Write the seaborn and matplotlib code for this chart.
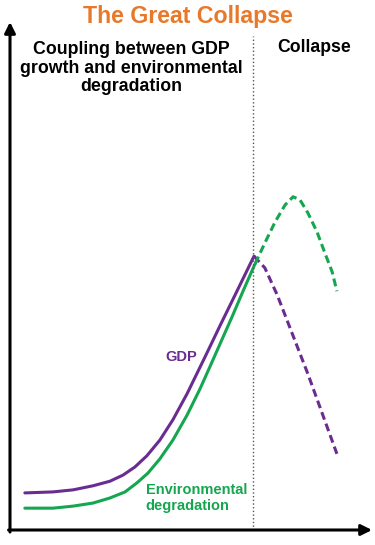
import numpy as np
import pandas as pd
import seaborn as sns
import matplotlib.pyplot as plt

# time axis runs 0..100, value axis 0..100 (arbitrary units, no ticks shown)
gdp_x = [4.1, 11.9, 17.4, 22.9, 27.6, 31.2, 34.5, 37.8, 41.4, 45.0, 48.9, 54.1, 58.0, 62.2, 67.4]
gdp_y = [7.3, 7.5, 7.9, 8.7, 9.6, 10.8, 12.4, 14.6, 17.7, 21.7, 26.8, 34.4, 40.2, 46.3, 53.9]

env_x = [4.1, 11.9, 17.4, 22.9, 27.6, 31.8, 35.1, 38.1, 41.4, 45.0, 48.9, 52.5, 55.2,
         58.0, 61.3, 64.6, 67.7]
env_y = [4.3, 4.3, 4.7, 5.3, 6.3, 7.5, 9.3, 11.2, 14.0, 17.7, 22.6, 27.8, 32.1,
         36.6, 41.9, 47.4, 52.4]

# collapse phase (dashed)
gdp_col_x = [67.4, 70.4, 73.8, 82.3, 90.3]
gdp_col_y = [53.9, 51.6, 46.3, 30.7, 15.0]

env_col_x = [67.7, 70.4, 73.2, 76.0, 78.2, 80.1, 82.3, 84.8, 87.0, 89.0, 90.3]
env_col_y = [52.4, 56.5, 60.6, 64.0, 65.6, 65.0, 62.4, 58.7, 54.5, 50.8, 47.0]

collapse_start = 67.1

purple = "#6a2c91"
green = "#15a650"
orange = "#e8782a"

sns.set_style("white")
plt.rcParams["font.family"] = ["Liberation Sans", "DejaVu Sans"]
plt.rcParams["text.color"] = "black"

fig = plt.figure(figsize=(3.75, 5.45), dpi=100)
ax = fig.add_axes([10 / 375, 15 / 545, 362 / 375, 508 / 545])

sns.lineplot(x=gdp_x, y=gdp_y, color=purple, linewidth=2.2, ax=ax)
sns.lineplot(x=env_x, y=env_y, color=green, linewidth=2.2, ax=ax)
sns.lineplot(x=gdp_col_x, y=gdp_col_y, color=purple, linewidth=2.2, ax=ax)
ax.lines[-1].set_dashes((2.6, 1.4))
sns.lineplot(x=env_col_x, y=env_col_y, color=green, linewidth=2.2, ax=ax)
ax.lines[-1].set_dashes((2.6, 1.4))
for ln in ax.lines:
    ln.set_solid_capstyle("round")
    ln.set_solid_joinstyle("round")
    ln.set_dash_joinstyle("round")

ax.axvline(collapse_start, ymin=0, ymax=0.972, color="#555555", lw=1.0, ls=":")

ax.set_xlim(0, 100)
ax.set_ylim(0, 100)
ax.set_xticks([])
ax.set_yticks([])
for s in ax.spines.values():
    s.set_visible(False)

arrow = dict(arrowstyle="-|>", lw=2.2, color="black", mutation_scale=16,
             shrinkA=0, shrinkB=0)
ax.annotate("", xy=(0, 1), xytext=(0, -0.004), xycoords="axes fraction",
            arrowprops=arrow, annotation_clip=False)
ax.annotate("", xy=(1, 0), xytext=(-0.004, 0), xycoords="axes fraction",
            arrowprops=arrow, annotation_clip=False)

fig.text(0.501, 0.969, "The Great Collapse", color=orange, fontsize=16.7,
         fontweight="bold", ha="center", va="center")
fig.text(0.349, 0.875, "Coupling between GDP\ngrowth and environmental\ndegradation",
         color="black", fontsize=12.8, fontweight="bold", ha="center",
         va="center", linespacing=1.1)
fig.text(0.837, 0.912, "Collapse", color="black", fontsize=12.7,
         fontweight="bold", ha="center", va="center")
fig.text(0.483, 0.345, "GDP", color=purple, fontsize=10.5, fontweight="bold",
         ha="center", va="center")
fig.text(0.389, 0.0862, "Environmental\ndegradation", color=green,
         fontsize=10.5, fontweight="bold", ha="left", va="center",
         linespacing=1.15)

fig.savefig("out.png", dpi=100)
